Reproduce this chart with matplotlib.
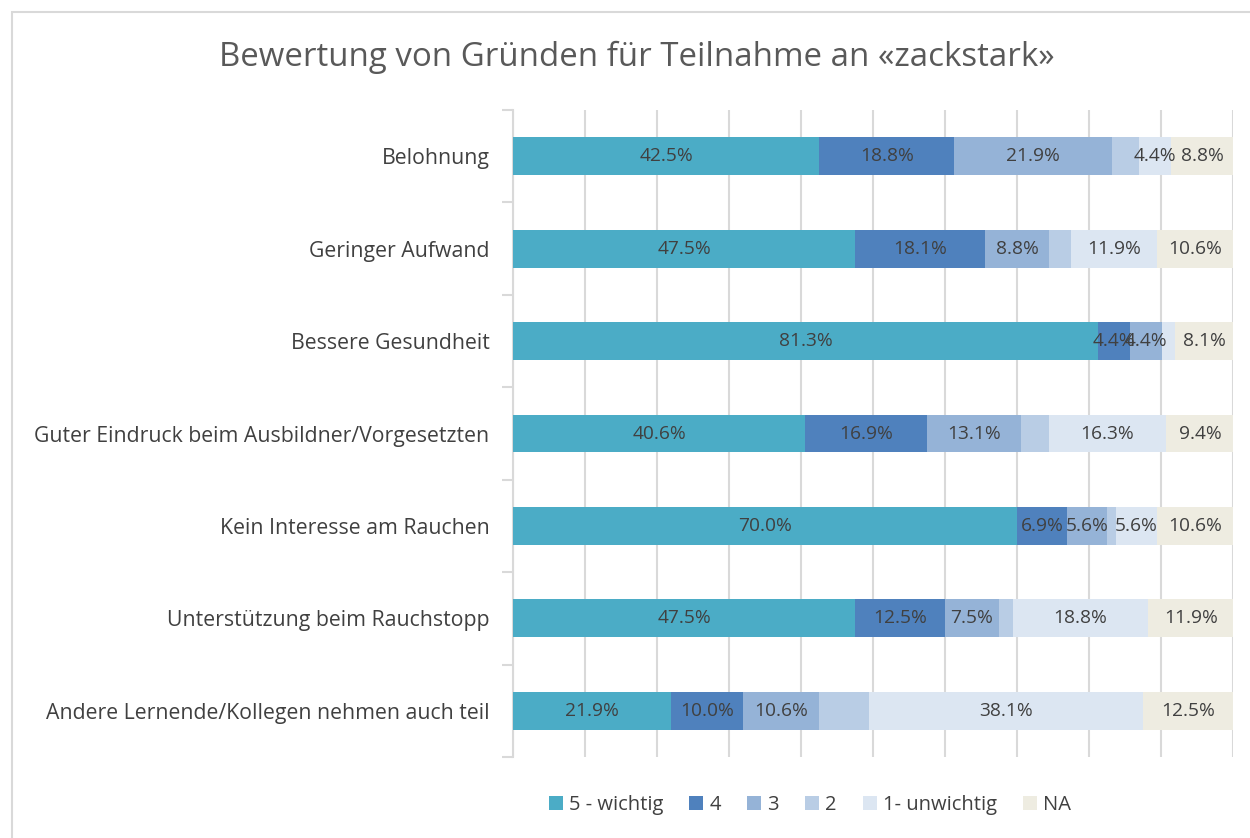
import matplotlib.pyplot as plt
from matplotlib.patches import Rectangle
import numpy as np

plt.rcParams['font.family'] = ['Open Sans', 'DejaVu Sans']

categories = ['Belohnung', 'Geringer Aufwand', 'Bessere Gesundheit',
              'Guter Eindruck beim Ausbildner/Vorgesetzten',
              'Kein Interesse am Rauchen', 'Unterstützung beim Rauchstopp',
              'Andere Lernende/Kollegen nehmen auch teil']
series_names = ['5 - wichtig', '4', '3', '2', '1- unwichtig', 'NA']
s5 = [42.5, 47.5, 81.3, 40.6, 70.0, 47.5, 21.9]
s4 = [18.8, 18.1, 4.4, 16.9, 6.9, 12.5, 10.0]
s3 = [21.9, 8.8, 4.4, 13.1, 5.6, 7.5, 10.6]
s2 = [3.8, 3.1, 0.0, 3.8, 1.3, 1.9, 6.9]
s1 = [4.4, 11.9, 1.9, 16.3, 5.6, 18.8, 38.1]
na = [8.8, 10.6, 8.1, 9.4, 10.6, 11.9, 12.5]
colors = ['#4BACC6', '#4F81BD', '#95B3D7', '#B9CDE5', '#DCE6F2', '#EEECE1']

fig = plt.figure(figsize=(12.5, 8.38), dpi=100)
ax = fig.add_axes([513/1250, 1-757/838, 720/1250, 647/838])

y = np.arange(len(categories))
left = np.zeros(len(categories))
handles = []
for name, vals, col in zip(series_names, [s5, s4, s3, s2, s1, na], colors):
    vals = np.array(vals)
    b = ax.barh(y, vals, left=left, height=0.41, color=col, label=name, zorder=3)
    handles.append(b)
    if name != '2':
        for yi, l, v in zip(y, left, vals):
            if v >= 3:
                ax.text(l + v/2, yi, f'{v:.1f}%', ha='center', va='center',
                        fontsize=13.8, color='#404040', zorder=4)
    left += vals

ax.set_xlim(0, 100)
ax.set_ylim(6.5, -0.5)
ax.set_xticks(np.arange(0, 101, 10))
ax.set_xticklabels([])
ax.tick_params(axis='x', length=0)
ax.grid(axis='x', color='#D9D9D9', lw=1.5, zorder=0)
ax.set_yticks(y)
ax.set_yticklabels(categories, fontsize=15.3, color='#404040')
ax.tick_params(axis='y', which='major', length=0, pad=17)
ax.set_yticks(np.arange(-0.5, 7, 1), minor=True)
ax.tick_params(axis='y', which='minor', length=8, color='#D9D9D9', width=1.5)
for s in ['top', 'right', 'bottom']:
    ax.spines[s].set_visible(False)
ax.spines['left'].set_color('#D9D9D9')
ax.spines['left'].set_linewidth(1.5)

fig.text(637/1250, 1-57/838, 'Bewertung von Gründen für Teilnahme an «zackstark»',
         ha='center', va='center', fontsize=23.8, color='#595959')

fig.legend(handles=handles, labels=series_names, loc='center',
           bbox_to_anchor=(810/1250, 1-805/838), ncol=6, frameon=False,
           fontsize=14.5, handlelength=0.7, handleheight=0.7,
           handletextpad=0.3, columnspacing=1.3, labelcolor='#404040')

fig.add_artist(Rectangle((12/1250, -0.1), 1.2, 1.1 - 12/838, transform=fig.transFigure,
                         fill=False, ec='#D9D9D9', lw=1.5))

fig.savefig('out.png', dpi=100, facecolor='white')
